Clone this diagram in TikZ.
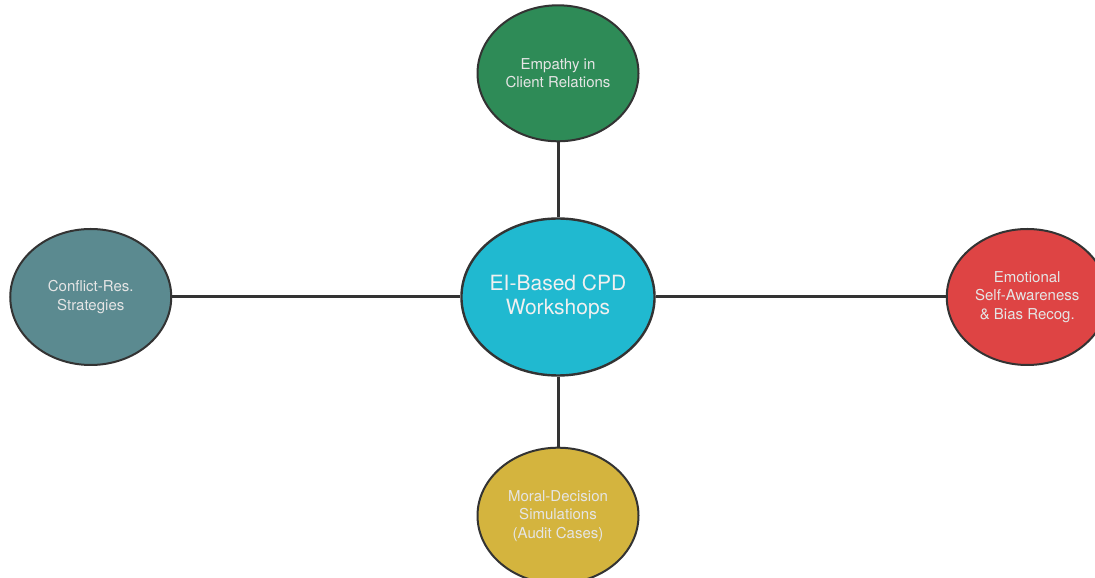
\documentclass[tikz,border=0pt]{standalone}
\usepackage{fontspec}
\setmainfont{TeX Gyre Heros}
\usepackage{xcolor}
\usepackage{tikz}
\usetikzlibrary{shapes,positioning}
\definecolor{hubcolor}{RGB}{32,185,208}
\definecolor{empgreen}{RGB}{46,139,87}
\definecolor{conflteal}{RGB}{91,138,144}
\definecolor{emored}{RGB}{222,68,68}
\definecolor{moralgold}{RGB}{212,180,62}
\definecolor{linkgray}{RGB}{51,51,51}

\begin{document}
\begin{tikzpicture}[
    hub/.style={ellipse, draw=linkgray, line width=2.4pt, fill=hubcolor, inner sep=0pt, minimum width=192pt, minimum height=157pt, align=center, text=white!94!black, font=\fontsize{21}{24.5}\selectfont},
    topic/.style={ellipse, draw=linkgray, line width=2pt, inner sep=0pt, minimum width=161pt, minimum height=136pt, align=center, text=white!90!black, font=\fontsize{15}{18.5}\selectfont},
    link/.style={draw=linkgray, line width=3pt}
]
    \useasboundingbox (0,0) rectangle (1095pt,578pt);

    \node[hub] (hub) at (558pt,281pt) {EI-Based CPD\\Workshops};

    \node[topic, fill=empgreen, above=75pt of hub] (empathy) {Empathy in\\Client Relations};
    \node[topic, fill=conflteal, left=288pt of hub] (conflict) {Conflict-Res.\\Strategies};
    \node[topic, fill=emored, right=290pt of hub] (emotional) {Emotional\\Self-Awareness\\\& Bias Recog.};
    \node[topic, fill=moralgold, below=70pt of hub] (moral) {Moral-Decision\\Simulations\\(Audit Cases)};

    \draw[link] (hub) -- (empathy);
    \draw[link] (hub) -- (conflict);
    \draw[link] (hub) -- (emotional);
    \draw[link] (hub) -- (moral);
\end{tikzpicture}
\end{document}
